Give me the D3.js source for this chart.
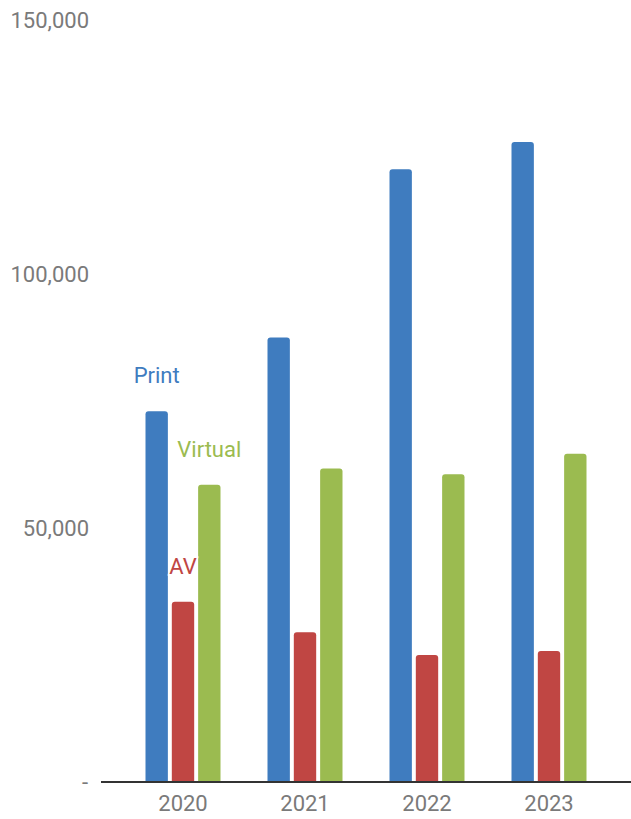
<!DOCTYPE html>
<html>
<head>
<meta charset="utf-8">
<script src="https://cdn.jsdelivr.net/npm/d3@7"></script>
<style>
  body { margin: 0; background: #fff; }
  text { font-family: Roboto, sans-serif; }
</style>
</head>
<body>
<div id="canvas"></div>
<script>
var years = ['2020', '2021', '2022', '2023'];
var series = ['Print', 'AV', 'Virtual'];
var printVals = [73000, 87500, 120600, 126000];
var avVals = [35500, 29500, 25000, 25800];
var virtualVals = [58500, 61700, 60600, 64600];
var yTicks = [0, 50000, 100000, 150000];
var colors = ['#3f7cbf', '#c04643', '#9bbb50'];

var W = 631, H = 819;
var yBase = 782, yTop = 20;

var svg = d3.select('#canvas').append('svg')
    .attr('width', W)
    .attr('height', H);

// scales
var scaleY = d3.scaleLinear().domain([0, 150000]).range([yBase, yTop]);
var scaleX = d3.scaleBand().domain(years).range([122, 610]);
var scaleSub = d3.scaleBand().domain(series).range([0, 75]).paddingInner(0.15);
var scaleColor = d3.scaleOrdinal().domain(series).range(colors);

var table = years.map(function(y, i){
  return {year: y, vals: [
    {key: 'Print', v: printVals[i]},
    {key: 'AV', v: avVals[i]},
    {key: 'Virtual', v: virtualVals[i]}
  ]};
});

// y axis labels
var axisY = d3.axisLeft(scaleY)
    .tickValues(yTicks)
    .tickSize(0)
    .tickPadding(0)
    .tickFormat(function(d){ return d === 0 ? '-' : d3.format(',')(d); });
var gy = svg.append('g').attr('transform', 'translate(89,0)').call(axisY);
gy.select('.domain').remove();
gy.selectAll('text')
    .attr('fill', '#7a7a7a')
    .style('font-size', '22px')
    .style('font-family', 'Roboto, sans-serif');
gy.selectAll('.tick').filter(function(d){ return d === 0; }).select('text')
    .attr('x', -1);

// bars with rounded tops
function barPath(x, y, w, h, r){
  r = Math.min(r, h);
  return 'M' + x + ',' + (y + h) +
    'V' + (y + r) +
    'Q' + x + ',' + y + ' ' + (x + r) + ',' + y +
    'H' + (x + w - r) +
    'Q' + (x + w) + ',' + y + ' ' + (x + w) + ',' + (y + r) +
    'V' + (y + h) + 'Z';
}

var groups = svg.selectAll('.grp').data(table).enter().append('g')
    .attr('class', 'grp')
    .attr('transform', function(d){
      return 'translate(' + (scaleX(d.year) + scaleX.bandwidth() / 2 - 37.5) + ',0)';
    });

groups.selectAll('path').data(function(d){ return d.vals; }).enter().append('path')
    .attr('d', function(d){
      var y = scaleY(d.v);
      return barPath(scaleSub(d.key), y, scaleSub.bandwidth(), yBase - y, 3);
    })
    .attr('fill', function(d){ return scaleColor(d.key); });

// x axis
svg.append('line')
    .attr('x1', 101).attr('x2', W)
    .attr('y1', yBase).attr('y2', yBase)
    .attr('stroke', '#333').attr('stroke-width', 2);

var axisX = d3.axisBottom(scaleX).tickSize(0).tickPadding(13);
var gx = svg.append('g').attr('transform', 'translate(0,' + yBase + ')').call(axisX);
gx.select('.domain').remove();
gx.selectAll('text')
    .attr('fill', '#7a7a7a')
    .style('font-size', '22px')
    .style('font-family', 'Roboto, sans-serif');

// series labels above first group
var first = table[0];
svg.append('g').selectAll('text').data(first.vals).enter().append('text')
    .attr('x', function(d){
      return scaleX(first.year) + scaleX.bandwidth() / 2 - 37.5 + scaleSub(d.key) + scaleSub.bandwidth() / 2;
    })
    .attr('y', function(d){ return scaleY(d.v) - 28; })
    .attr('text-anchor', 'middle')
    .attr('fill', function(d){ return scaleColor(d.key); })
    .attr('stroke', '#fff')
    .attr('stroke-width', 3)
    .attr('paint-order', 'stroke')
    .style('font-size', '22px')
    .text(function(d){ return d.key; });
</script>
</body>
</html>
